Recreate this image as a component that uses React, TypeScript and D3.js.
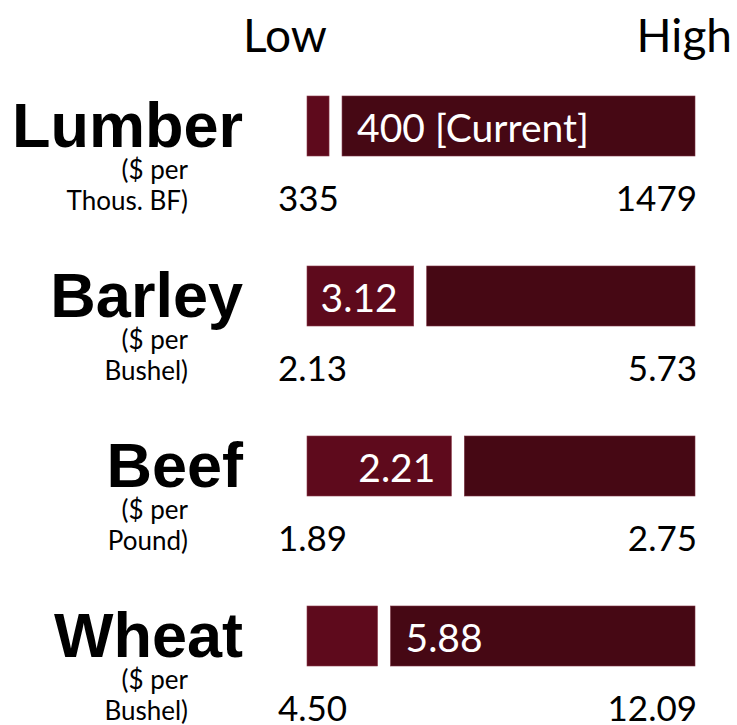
import React from "react";
import * as d3 from "d3";

const categories = ["Lumber", "Barley", "Beef", "Wheat"];
const unitLine1 = ["($ per", "($ per", "($ per", "($ per"];
const unitLine2 = ["Thous. BF)", "Bushel)", "Pound)", "Bushel)"];
const lows = [335, 2.13, 1.89, 4.5];
const highs = [1479, 5.73, 2.75, 12.09];
const currents = [400, 3.12, 2.21, 5.88];
const lowLabels = ["335", "2.13", "1.89", "4.50"];
const highLabels = ["1479", "5.73", "2.75", "12.09"];
const currentLabels = ["400 [Current]", "3.12", "2.21", "5.88"];
const headers = ["Low", "High"];

const W = 737;
const H = 725;
const X0 = 307;
const X1 = 695;
const GAP = 13;
const LEFT_COLOR = "#5e0a1c";
const RIGHT_COLOR = "#460814";
const FONT = "Lato, 'Open Sans', sans-serif";

export default function App() {
  const y = d3
    .scaleBand<string>()
    .domain(categories)
    .range([96, 96 + 3 * 170 + 60])
    .paddingInner(110 / 170)
    .paddingOuter(0);

  return (
    <svg
      width={W}
      height={H}
      style={{ position: "absolute", left: 0, top: 0, background: "#fff" }}
    >
      <text x={243} y={52} fontFamily={FONT} fontSize={46} fill="#000">
        {headers[0]}
      </text>
      <text x={732} y={52} fontFamily={FONT} fontSize={46} fill="#000" textAnchor="end">
        {headers[1]}
      </text>
      {categories.map((c, i) => {
        const x = d3.scaleLinear().domain([lows[i], highs[i]]).range([X0, X1]);
        const top = y(c) as number;
        const bh = y.bandwidth();
        const split = x(currents[i]);
        const frac = (currents[i] - lows[i]) / (highs[i] - lows[i]);
        const inLeft = frac > 0.25;
        return (
          <g key={c}>
            <rect
              x={X0}
              y={top}
              width={split - X0}
              height={bh}
              fill={LEFT_COLOR}
              stroke="#8a3a4a"
              strokeWidth={0.6}
            />
            <rect
              x={split + GAP}
              y={top}
              width={X1 - split - GAP}
              height={bh}
              fill={RIGHT_COLOR}
              stroke="#7a3040"
              strokeWidth={0.6}
            />
            <text
              x={inLeft ? split - 16 : split + GAP + 15}
              y={top + 46}
              textAnchor={inLeft ? "end" : "start"}
              fontFamily={FONT}
              fontSize={39}
              fill="#fff"
            >
              {currentLabels[i]}
            </text>
            <text
              x={243}
              y={top + 51}
              textAnchor="end"
              fontFamily="'Liberation Sans', Arial, sans-serif"
              fontWeight="bold"
              fontSize={63}
              fill="#000"
            >
              {c}
            </text>
            <text x={188} y={top + 83} textAnchor="end" fontFamily={FONT} fontSize={26} fill="#000">
              {unitLine1[i]}
            </text>
            <text x={188} y={top + 114} textAnchor="end" fontFamily={FONT} fontSize={26} fill="#000">
              {unitLine2[i]}
            </text>
            <text x={278} y={top + 115} fontFamily={FONT} fontSize={35} fill="#000">
              {lowLabels[i]}
            </text>
            <text x={697} y={top + 115} textAnchor="end" fontFamily={FONT} fontSize={35} fill="#000">
              {highLabels[i]}
            </text>
          </g>
        );
      })}
    </svg>
  );
}
